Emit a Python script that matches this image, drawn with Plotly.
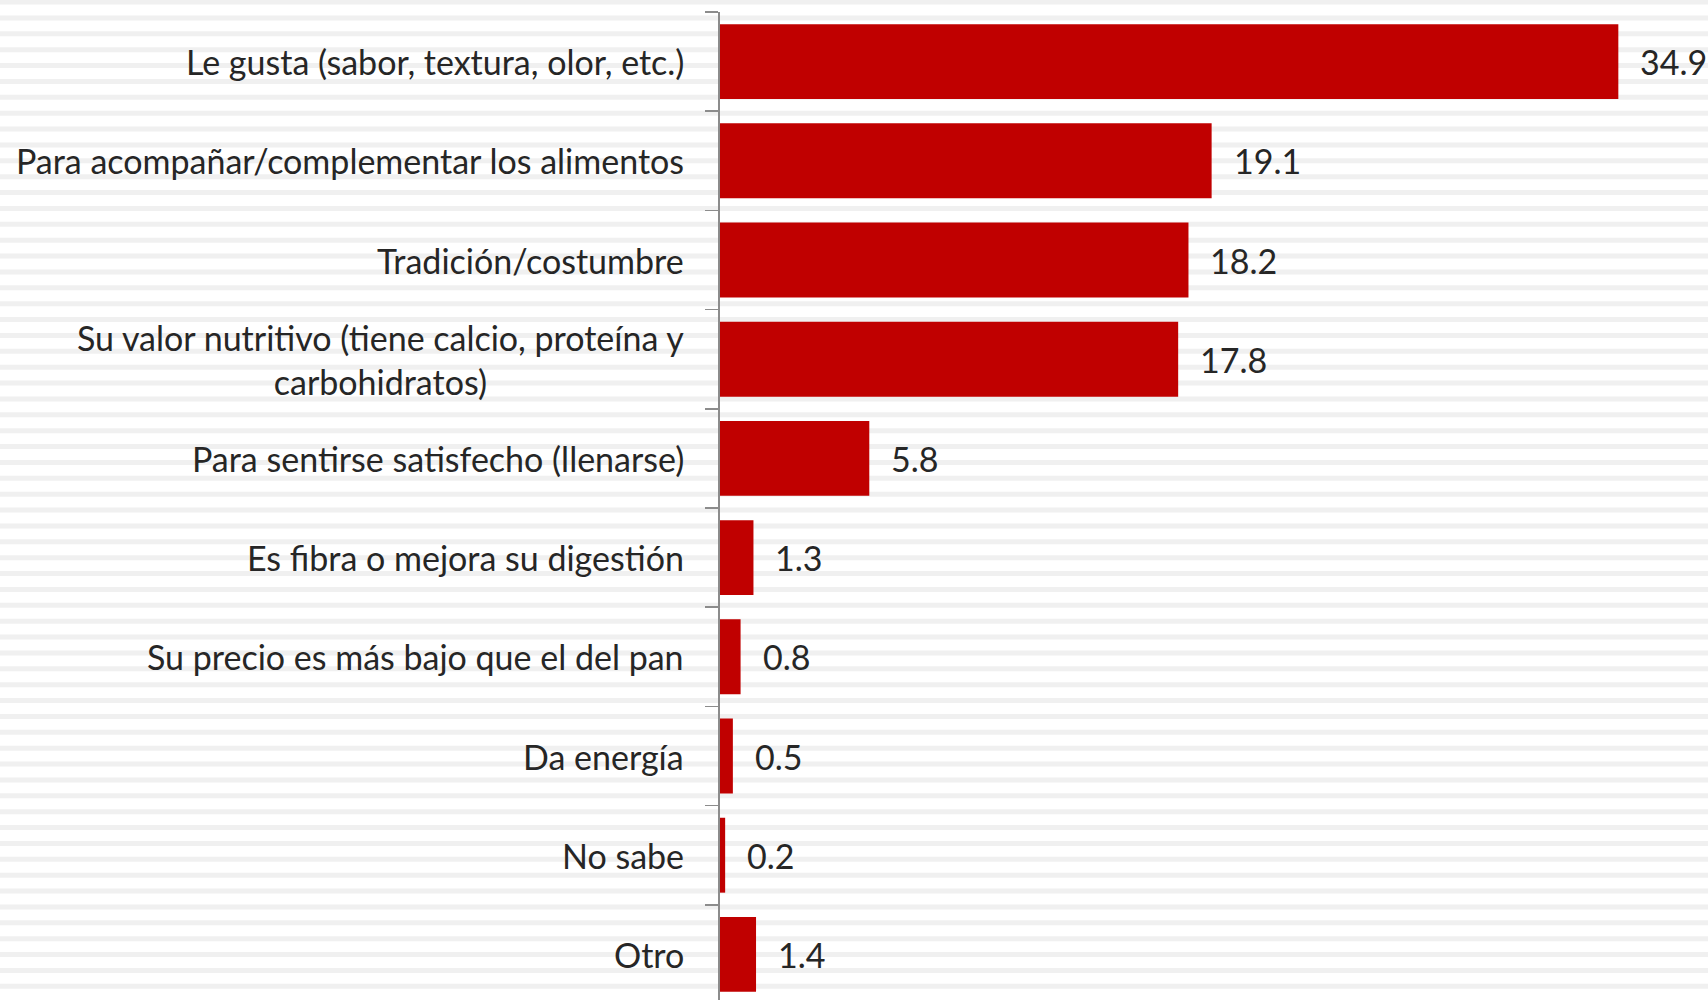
import plotly.graph_objects as go

categories = [
    "Le gusta (sabor, textura, olor, etc.)",
    "Para acompañar/complementar los alimentos",
    "Tradición/costumbre",
    "Su valor nutritivo (tiene calcio, proteína y<br>carbohidratos)",
    "Para sentirse satisfecho (llenarse)",
    "Es fibra o mejora su digestión",
    "Su precio es más bajo que el del pan",
    "Da energía",
    "No sabe",
    "Otro",
]
values = [34.9, 19.1, 18.2, 17.8, 5.8, 1.3, 0.8, 0.5, 0.2, 1.4]

W, H = 1708, 1000
ML, MT = 720, 12
PW, PH = W - ML, H - MT

FONT = "Lato"
FS = 34
BAR = "#C00000"
TXT = "#262626"
AXIS = "#8c8c8c"

fig = go.Figure()
fig.add_trace(go.Bar(
    x=values,
    y=list(range(len(categories))),
    orientation="h",
    marker=dict(color=BAR, line=dict(width=0)),
    hoverinfo="skip",
))

annotations = []
for i, (c, v) in enumerate(zip(categories, values)):
    annotations.append(dict(
        x=0, xref="paper", y=i, yref="y", text=c, showarrow=False,
        xanchor="right", yanchor="middle", xshift=-34, align="center",
        font=dict(family=FONT, size=FS, color=TXT),
    ))
    annotations.append(dict(
        x=v, xref="x", y=i, yref="y", text=f"{v:.1f}", showarrow=False,
        xanchor="left", yanchor="middle", xshift=20,
        font=dict(family=FONT, size=FS, color=TXT),
    ))

# background stripes (decorative)
shapes = []
period = 15.875
k = 0
while k * period < H:
    y0 = k * period - 0.5
    y1 = y0 + 5
    shapes.append(dict(
        type="rect", xref="paper", yref="paper", layer="below",
        x0=-ML / PW, x1=1.0,
        y0=1 - (y1 - MT) / PH, y1=1 - (y0 - MT) / PH,
        fillcolor="#f0f0f0", line=dict(width=0),
    ))
    k += 1

n = len(categories)
fig.update_layout(
    width=W, height=H,
    margin=dict(l=ML, r=0, t=MT, b=0, pad=0),
    paper_bgcolor="white",
    plot_bgcolor="rgba(0,0,0,0)",
    showlegend=False,
    bargap=0.245,
    annotations=annotations,
    shapes=shapes,
    xaxis=dict(range=[0, PW / 25.74], visible=False, fixedrange=True),
    yaxis=dict(
        range=[-0.5 + PH / 99.2, -0.5],
        tickmode="array",
        tickvals=[i - 0.5 for i in range(n + 1)],
        ticktext=[""] * (n + 1),
        showticklabels=False,
        ticks="outside", ticklen=13, tickwidth=1.5, tickcolor=AXIS,
        showline=True, linecolor=AXIS, linewidth=2,
        showgrid=False, zeroline=False, fixedrange=True,
    ),
)

fig.write_html(
    "out.html",
    config={"displayModeBar": False, "staticPlot": True},
    post_script="document.body.style.margin='0';",
)
